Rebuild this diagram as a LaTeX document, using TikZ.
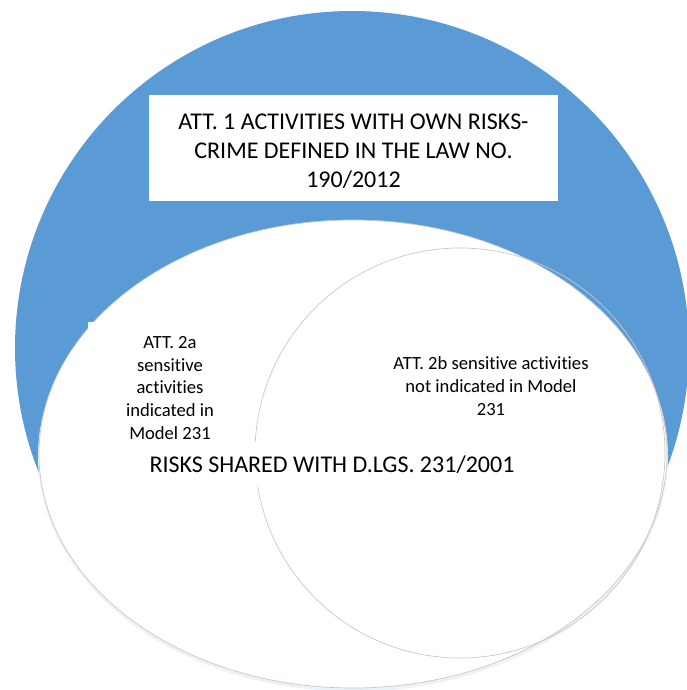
\documentclass[tikz,border=0pt]{standalone}
\usepackage{fontspec}
\setmainfont{Carlito}[Ligatures=NoCommon]
\definecolor{riskblue}{HTML}{5B9BD5}
\definecolor{rimgray}{HTML}{C8C8C8}
\tikzset{
  bigtext/.style={font=\fontsize{24}{29}\selectfont, align=center, inner sep=0pt},
  smalltext/.style={font=\fontsize{18.6}{22.7}\selectfont, align=center, inner sep=0pt},
}
\begin{document}
\begin{tikzpicture}[x=1pt,y=-1pt]
    \useasboundingbox (0,0) rectangle (686,690);
    % outer area
    \fill[riskblue] (352,348) circle (337);
    % shared area with its soft shadow
    \fill[riskblue!12] (353,456.5) ellipse [x radius=315, y radius=235];
    \filldraw[fill=white, draw=rimgray, line width=0.7pt] (353,454) ellipse [x radius=314, y radius=234];
    \draw[rimgray, line width=0.7pt] (460,453) circle (205);

    \fill[white] (88,322) rectangle (253,442);
    \node[fill=white, minimum width=409pt, minimum height=106pt] (ownbox) at (353.5,148) {};
    \node[bigtext] (ownrisk) at (353.5,151.5)
        {ATT. 1 ACTIVITIES WITH OWN RISKS-\\CRIME DEFINED IN THE LAW NO.\\190/2012};
    \node[smalltext] (att2a) at (170,388)
        {ATT. 2a\\sensitive\\activities\\indicated in\\Model 231};
    \node[smalltext] (att2b) at (491,386)
        {ATT. 2b sensitive activities\\not indicated in Model\\231};
    \node[bigtext, fill=white, minimum width=420pt, minimum height=45pt] (shared) at (332,464.5)
        {RISKS SHARED WITH D.LGS. 231/2001};
\end{tikzpicture}
\end{document}
